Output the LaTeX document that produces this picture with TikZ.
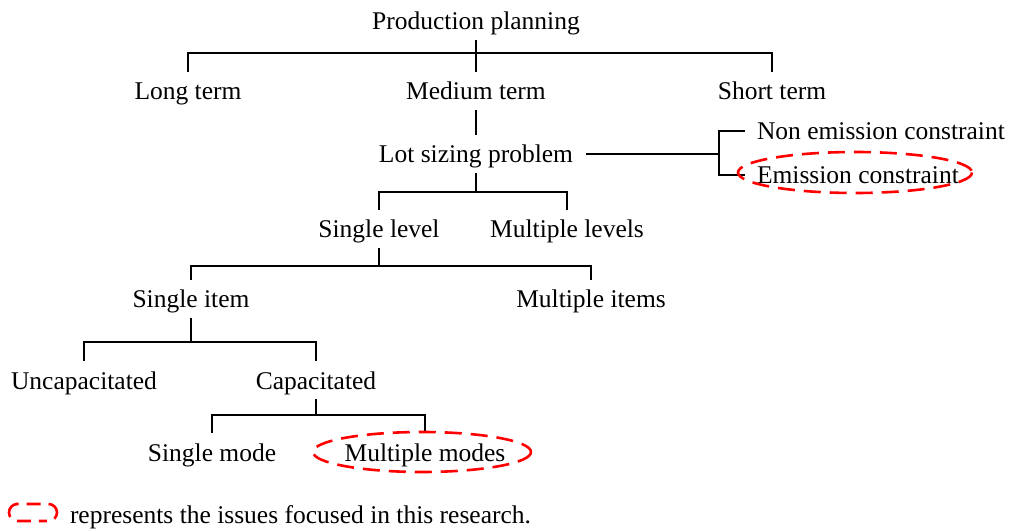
\documentclass[tikz,border=0pt]{standalone}
\usepackage{fontspec}
\setmainfont{Liberation Serif}
\begin{document}
\begin{tikzpicture}[x=1pt,y=-1pt,
  lbl/.style={font=\fontsize{25.5}{30}\selectfont, inner sep=0pt, outer sep=5pt, text height=23pt, text depth=5pt, anchor=base},
  conn/.style={draw=black, line width=1.8pt},
  focus/.style={draw=red, line width=2.6pt, dash pattern=on 17pt off 9pt}]
\useasboundingbox (0,0) rectangle (1009,529);
\node[lbl] (pp) at (476,30) {Production planning};
\node[lbl] (lt) at (188,100) {Long term};
\node[lbl] (mt) at (476,100) {Medium term};
\node[lbl] (st) at (772,100) {Short term};
\node[lbl] (ls) at (476,163) {Lot sizing problem};
\node[lbl,anchor=base west] (ne) at (752,140) {Non emission constraint};
\node[lbl,anchor=base west] (ec) at (752,184) {Emission constraint};
\node[lbl] (sl) at (379,238) {Single level};
\node[lbl] (ml) at (567,238) {Multiple levels};
\node[lbl] (si) at (191,308) {Single item};
\node[lbl] (mi) at (591,308) {Multiple items};
\node[lbl] (uc) at (84,389) {Uncapacitated};
\node[lbl] (ca) at (316,389) {Capacitated};
\node[lbl] (sm) at (212,461) {Single mode};
\node[lbl] (mm) at (425,461) {Multiple modes};
\node[lbl,anchor=base west] (lg) at (65,523) {represents the issues focused in this research.};
\coordinate (j1) at (476,53);
\coordinate (j2) at (476,192);
\coordinate (j3) at (379,266);
\coordinate (j4) at (191,342);
\coordinate (j5) at (316,415);
\coordinate (bk) at (719,154);
\draw[conn] (pp) -- (j1);
\draw[conn] (lt) |- (j1) -| (st);
\draw[conn] (j1) -- (mt);
\draw[conn] (mt) -- (ls);
\draw[conn] (ls) -- (j2);
\draw[conn] (sl) |- (j2) -| (ml);
\draw[conn] (sl) -- (j3);
\draw[conn] (si) |- (j3) -| (mi);
\draw[conn] (si) -- (j4);
\draw[conn] (uc) |- (j4) -| (ca);
\draw[conn] (ca) -- (j5);
\draw[conn] (sm) |- (j5) -| (mm);
\draw[conn] ([xshift=8pt]ls.east) -- (bk);
\draw[conn] ([xshift=-7pt]ne.west) -| (bk) |- ([xshift=-7pt]ec.west);
\draw[focus] (855,172.5) ellipse [x radius=117, y radius=20.5];
\draw[focus] (422,452) ellipse [x radius=109, y radius=20];
\draw[focus, dash pattern=on 20pt off 8pt on 14pt off 8pt on 8pt off 8pt, rounded corners=8.5pt] (24,504) -- (9,504) -- (9,521) -- (57,521) -- (57,504) -- cycle;
\end{tikzpicture}
\end{document}
